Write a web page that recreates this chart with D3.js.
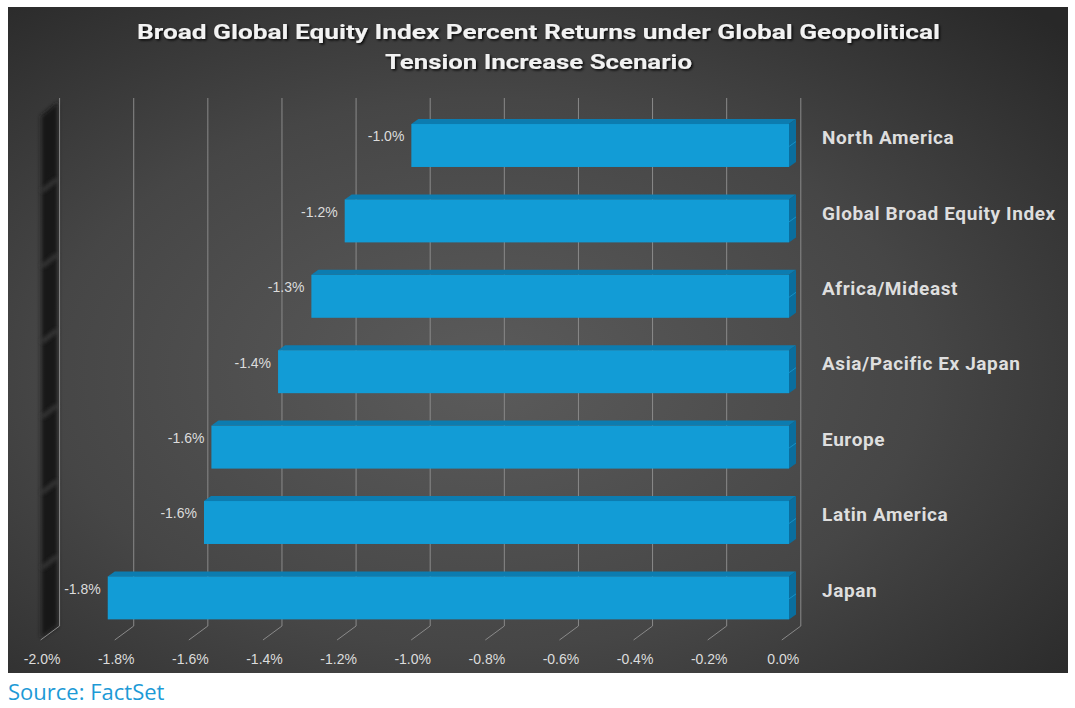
<!DOCTYPE html>
<html>
<head>
<meta charset="utf-8">
<script src="https://cdn.jsdelivr.net/npm/d3@7"></script>
<style>
  html, body { margin: 0; padding: 0; background: #ffffff; }
  svg { display: block; }
</style>
</head>
<body>
<svg id="chart" width="1075" height="708"></svg>
<script>
// ---- Data ----
const categories = ["North America", "Global Broad Equity Index", "Africa/Mideast", "Asia/Pacific Ex Japan", "Europe", "Latin America", "Japan"];
const values = [-1.02, -1.20, -1.29, -1.38, -1.56, -1.58, -1.84];
const tickValues = [-2.0, -1.8, -1.6, -1.4, -1.2, -1.0, -0.8, -0.6, -0.4, -0.2, 0.0];
const titleLines = ["Broad Global Equity Index Percent Returns under Global Geopolitical", "Tension Increase Scenario"];
const sourceText = "Source: FactSet";

// ---- Setup ----
const svg = d3.select("#chart");
const panel = { x: 8, y: 7, w: 1060, h: 666 };
const locale = d3.formatLocale({ decimal: ".", thousands: ",", grouping: [3], currency: ["$", ""], minus: "-" });
const pct = d => locale.format(".1f")(d) + "%";

const defs = svg.append("defs");
const bg = defs.append("radialGradient").attr("id", "bg")
  .attr("cx", "45%").attr("cy", "55%").attr("r", "75%");
bg.append("stop").attr("offset", "0%").attr("stop-color", "#5b5b5b");
bg.append("stop").attr("offset", "55%").attr("stop-color", "#464646");
bg.append("stop").attr("offset", "100%").attr("stop-color", "#282828");

const wallGrad = defs.append("linearGradient").attr("id", "wall")
  .attr("x1", "0%").attr("x2", "100%").attr("y1", "0%").attr("y2", "0%");
wallGrad.append("stop").attr("offset", "0%").attr("stop-color", "#202020");
wallGrad.append("stop").attr("offset", "50%").attr("stop-color", "#121212");
wallGrad.append("stop").attr("offset", "100%").attr("stop-color", "#1e1e1e");

const blur = defs.append("filter").attr("id", "blur").attr("x", "-50%").attr("y", "-50%").attr("width", "200%").attr("height", "200%");
blur.append("feGaussianBlur").attr("stdDeviation", 2.2);

const shadow = defs.append("filter").attr("id", "tshadow").attr("x", "-5%").attr("y", "-30%").attr("width", "110%").attr("height", "160%");
shadow.append("feDropShadow").attr("dx", 1.5).attr("dy", 1.5).attr("stdDeviation", 1.2)
  .attr("flood-color", "#000").attr("flood-opacity", 0.85);

svg.append("rect").attr("x", panel.x).attr("y", panel.y).attr("width", panel.w).attr("height", panel.h)
  .attr("fill", "url(#bg)");

// ---- Scales ----
const backTop = 98, backBottom = 626;
const floorDx = -19, floorDy = 14;
const xBack = d3.scaleLinear().domain([-2, 0]).range([59.6, 800.8]);
const xFront = d3.scaleLinear().domain([-2, 0]).range([48.5, 789]);
const xLabel = d3.scaleLinear().domain([-2, 0]).range([59.6 - 18, 800.8 - 18]);
const y = d3.scaleBand().domain(categories).range([107.8, 635.6])
  .paddingInner(0.43).paddingOuter(0.215);

// ---- Left side wall ----
const wx0 = 41, wx1 = 58;
svg.append("path")
  .attr("d", `M${wx1},${backTop + 4} L${wx1},${backBottom} L${wx0},${backBottom + 12} L${wx0},${backTop + 18} Z`)
  .attr("fill", "url(#wall)").attr("filter", "url(#blur)").attr("opacity", 0.95);
const bounds = categories.slice(1).map(c => y(c) - y.step() * 0.215);
svg.append("g").selectAll("path").data(bounds).join("path")
  .attr("d", b => `M${wx0 + 1},${b + 8} L${wx1 - 1},${b - 4}`)
  .attr("stroke", "#4a4a4a").attr("stroke-width", 3).attr("fill", "none")
  .attr("filter", "url(#blur)").attr("opacity", 0.9);

// ---- Gridlines (back wall + floor diagonals) ----
const grid = svg.append("g").attr("stroke", "#8a8a8a").attr("stroke-width", 1).attr("fill", "none");
grid.selectAll("line.v").data(tickValues).join("line").attr("class", "v")
  .attr("x1", d => xBack(d)).attr("x2", d => xBack(d))
  .attr("y1", backTop).attr("y2", backBottom);
grid.selectAll("line.f").data(tickValues).join("line").attr("class", "f")
  .attr("x1", d => xBack(d)).attr("x2", d => xBack(d) + floorDx)
  .attr("y1", backBottom).attr("y2", backBottom + floorDy);

// ---- Bars (3D) ----
const dx = 7, dy = -5;
const bars = svg.append("g");
categories.forEach((c, i) => {
  const v = values[i];
  const x0 = xFront(v), x1 = xFront(0);
  const yt = y(c), h = y.bandwidth();
  const g = bars.append("g");
  g.append("path")
    .attr("d", `M${x0},${yt} L${x0 + dx},${yt + dy} L${x1 + dx},${yt + dy} L${x1},${yt} Z`)
    .attr("fill", "#0c7cb0");
  g.append("path")
    .attr("d", `M${x1},${yt} L${x1 + dx},${yt + dy} L${x1 + dx},${yt + h + dy} L${x1},${yt + h} Z`)
    .attr("fill", "#0a6e9e");
  g.append("line")
    .attr("x1", x1).attr("y1", yt + h / 2 + 1).attr("x2", x1 + dx).attr("y2", yt + h / 2 + 1 + dy)
    .attr("stroke", "#1590c6").attr("stroke-width", 1);
  g.append("rect")
    .attr("x", x0).attr("y", yt).attr("width", x1 - x0).attr("height", h)
    .attr("fill", "#129cd6");
});

// ---- Data labels ----
svg.append("g").selectAll("text").data(categories).join("text")
  .attr("x", (c, i) => xFront(values[i]) - 7)
  .attr("y", c => y(c) + y.bandwidth() / 2 - 9)
  .attr("dy", "0.35em")
  .attr("text-anchor", "end")
  .attr("font-family", "'Liberation Sans', Arial, sans-serif")
  .attr("font-size", 14)
  .attr("fill", "#dcdcdc")
  .text((c, i) => pct(values[i]));

// ---- Category labels ----
svg.append("g").selectAll("text").data(categories).join("text")
  .attr("x", 822)
  .attr("y", c => y(c) + y.bandwidth() / 2 - 8)
  .attr("dy", "0.35em")
  .attr("font-family", "Roboto, 'Open Sans', sans-serif")
  .attr("font-weight", 700)
  .attr("font-size", 19)
  .attr("letter-spacing", 0.6)
  .attr("fill", "#dedede")
  .text(c => c);

// ---- X axis tick labels ----
const axis = d3.axisBottom(xLabel).tickValues(tickValues).tickSize(0).tickFormat(pct);
const ax = svg.append("g").attr("transform", `translate(0, 651)`).call(axis);
ax.select(".domain").remove();
ax.selectAll("text")
  .attr("font-family", "'Liberation Sans', Arial, sans-serif")
  .attr("font-size", 14)
  .attr("fill", "#dcdcdc");

// ---- Title ----
const titleG = svg.append("g").attr("filter", "url(#tshadow)");
const titleLens = [803, 307];
const titleYs = [39, 69];
titleLines.forEach((t, i) => {
  titleG.append("text")
    .attr("x", 538.5).attr("y", titleYs[i])
    .attr("text-anchor", "middle")
    .attr("font-family", "Roboto, 'Open Sans', sans-serif")
    .attr("font-weight", 700)
    .attr("font-size", 21)
    .attr("fill", "#f2f2f2")
    .attr("textLength", titleLens[i])
    .attr("lengthAdjust", "spacingAndGlyphs")
    .text(t);
});

// ---- Source ----
svg.append("text")
  .attr("x", 8).attr("y", 700)
  .attr("font-family", "'Open Sans', 'Liberation Sans', sans-serif")
  .attr("font-size", 22)
  .attr("fill", "#1d9ad6")
  .text(sourceText);
</script>
</body>
</html>
